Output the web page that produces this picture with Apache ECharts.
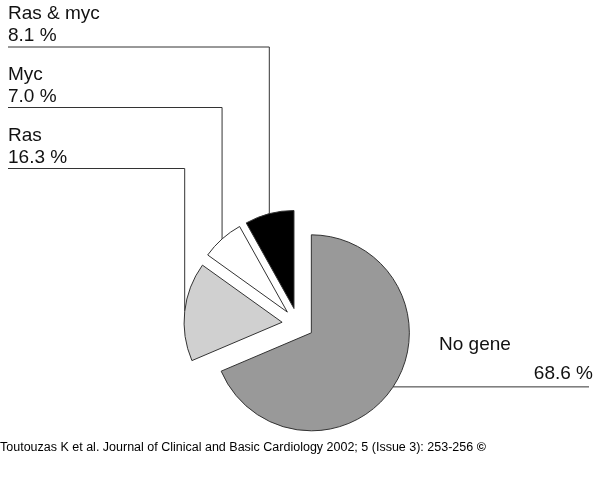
<!DOCTYPE html>
<html>

<head>
    <meta charset="UTF-8">
    <script src="https://cdn.jsdelivr.net/npm/echarts@6/dist/echarts.min.js"></script>
</head>

<body style="margin:0;background-color:#ffffff;">
    <div id="main" style="height:498px;width:600px"></div>
    <script type="text/javascript">
        // data
        var names = ['No gene', 'Ras', 'Myc', 'Ras & myc'];
        var values = [68.6, 16.3, 7.0, 8.1];
        var colors = ['#999999', '#d0d0d0', '#ffffff', '#000000'];
        var source = 'Toutouzas K et al. Journal of Clinical and Basic Cardiology 2002; 5 (Issue 3): 253-256 ';

        // pie geometry
        var cx = 298, cy = 324, radius = 98, explode = 16;
        var total = values.reduce(function (a, b) { return a + b; }, 0);
        var fontFam = '"Liberation Sans", Arial, sans-serif';

        // point on the exploded arc at the middle of slice i
        function arcPoint(i) {
            var before = 0;
            for (var k = 0; k < i; k++) before += values[k];
            var mid = (before + values[i] / 2) / total * Math.PI * 2; // clockwise from top
            var d = radius + explode;
            return [cx + Math.sin(mid) * d, cy - Math.cos(mid) * d];
        }

        // the left labels sit on stacked rules, top one is the last slice
        var leftRule = { 'Ras & myc': 47, 'Myc': 107.5, 'Ras': 168.5 };

        var sliceData = [], labelData = [];
        for (var i = 0; i < names.length; i++) {
            sliceData.push({
                name: names[i],
                value: values[i],
                selected: true,
                itemStyle: { color: colors[i] }
            });
            labelData.push({ name: names[i], value: values[i] });
        }

        var myChart = echarts.init(document.getElementById('main'));

        var option = {
            animation: false,
            backgroundColor: '#ffffff',
            graphic: [{
                type: 'text',
                left: 0,
                top: 441,
                style: {
                    text: source + '{c|©}',
                    fill: '#000',
                    font: '12.5px ' + fontFam,
                    rich: {
                        c: { fontWeight: 'bold', fontSize: 12.5, fontFamily: fontFam }
                    }
                }
            }],
            series: [{
                // exploded slices
                type: 'pie',
                center: [cx, cy],
                radius: radius,
                startAngle: 90,
                clockwise: true,
                selectedMode: 'multiple',
                selectedOffset: explode,
                silent: true,
                emphasis: { disabled: true },
                itemStyle: { borderColor: '#333333', borderWidth: 1 },
                select: { itemStyle: { borderColor: '#333333', borderWidth: 1 } },
                label: { show: false },
                labelLine: { show: false },
                data: sliceData
            }, {
                // labels with their ruled leader lines
                type: 'pie',
                center: [cx, cy],
                radius: radius,
                startAngle: 90,
                clockwise: true,
                silent: true,
                avoidLabelOverlap: false,
                emphasis: { disabled: true },
                itemStyle: { color: 'rgba(0,0,0,0)', borderWidth: 0 },
                label: {
                    show: true,
                    position: 'outside',
                    color: '#111',
                    fontSize: 19,
                    fontFamily: fontFam,
                    lineHeight: 22,
                    formatter: function (p) {
                        if (p.dataIndex === 0) {
                            return '{a|' + p.name + '}\n{b|' + p.value.toFixed(1) + ' %}';
                        }
                        return p.name + '\n' + p.value.toFixed(1) + ' %';
                    },
                    rich: {
                        a: { fontSize: 19, lineHeight: 36, align: 'left', color: '#111', fontFamily: fontFam },
                        b: { fontSize: 19, lineHeight: 22, align: 'right', color: '#111', fontFamily: fontFam }
                    }
                },
                labelLine: {
                    show: true,
                    lineStyle: { color: '#333333', width: 1 }
                },
                labelLayout: function (params) {
                    var i = params.dataIndex;
                    var p = arcPoint(i);
                    if (i === 0) {
                        return {
                            x: 439, y: p[1] - 2,
                            width: 154,
                            align: 'left', verticalAlign: 'bottom',
                            labelLinePoints: [p, [589, p[1]]]
                        };
                    }
                    var ry = leftRule[names[i]];
                    return {
                        x: 8, y: ry,
                        align: 'left', verticalAlign: 'bottom',
                        labelLinePoints: [p, [p[0], ry], [8, ry]]
                    };
                },
                data: labelData
            }]
        };

        myChart.setOption(option);
    </script>
</body>

</html>
